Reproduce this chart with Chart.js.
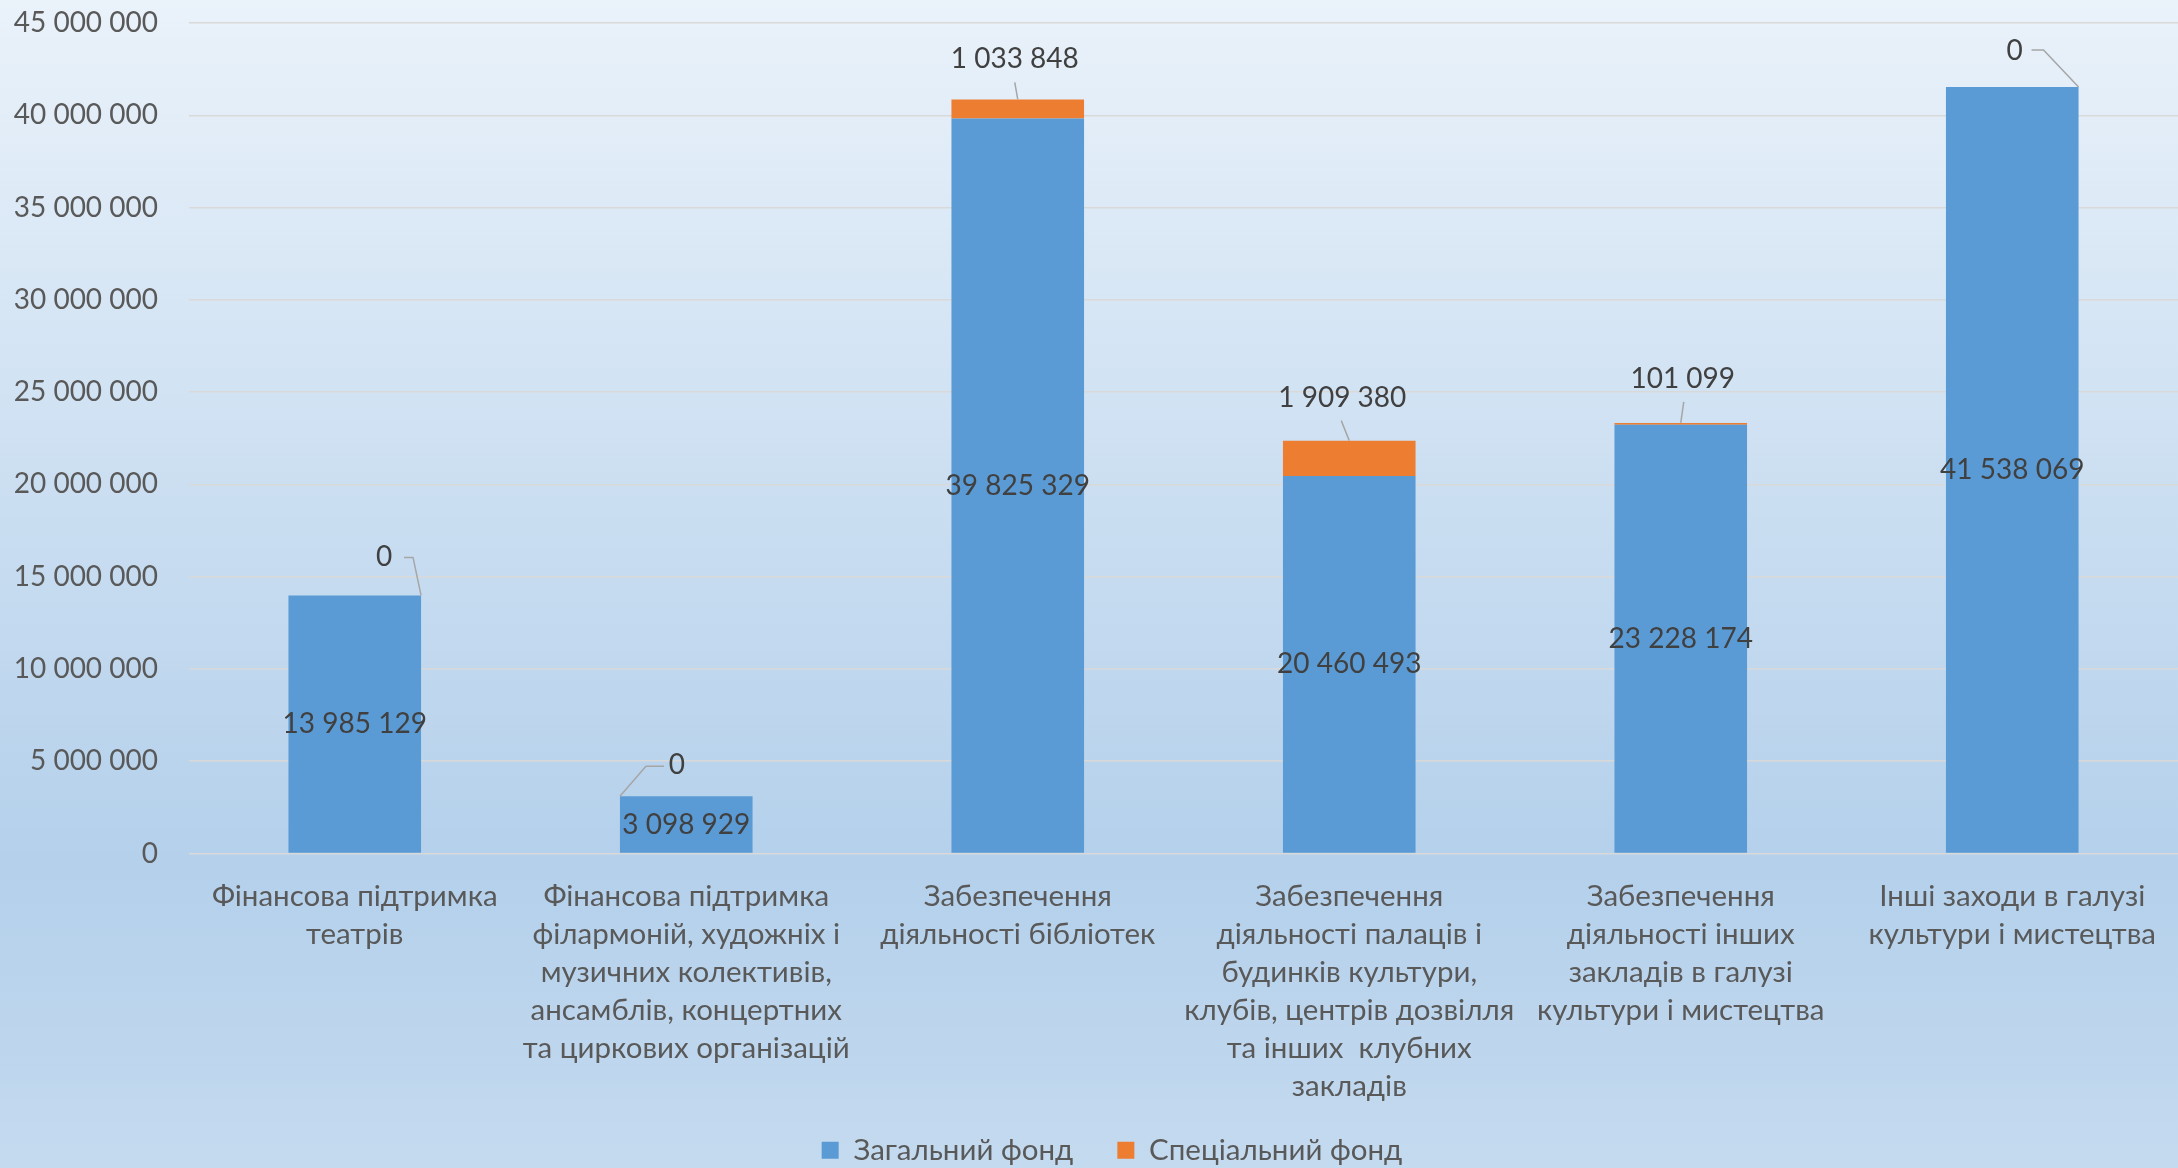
<!DOCTYPE html>
<html>
<head>
<meta charset="utf-8">
<script src="https://cdn.jsdelivr.net/npm/chart.js@4/dist/chart.umd.min.js"></script>
<style>
  html, body { margin: 0; padding: 0; }
  #wrap { width: 2178px; height: 1168px; }
</style>
</head>
<body>
<div id="wrap"><canvas id="barChart" width="2178" height="1168"></canvas></div>
<script>
// categories (multi-line, as wrapped in the source)
const categories = [
  ["Фінансова підтримка", "театрів"],
  ["Фінансова підтримка", "філармоній, художніх і", "музичних колективів,", "ансамблів, концертних", "та циркових організацій"],
  ["Забезпечення", "діяльності бібліотек"],
  ["Забезпечення", "діяльності палаців і", "будинків культури,", "клубів, центрів дозвілля", "та інших  клубних", "закладів"],
  ["Забезпечення", "діяльності інших", "закладів в галузі", "культури і мистецтва"],
  ["Інші заходи в галузі", "культури і мистецтва"]
];
const seriesNames = ["Загальний фонд", "Спеціальний фонд"];
const generalFund = [13985129, 3098929, 39825329, 20460493, 23228174, 41538069];
const specialFund = [0, 0, 1033848, 1909380, 101099, 0];
const yTicks = [0, 5000000, 10000000, 15000000, 20000000, 25000000, 30000000, 35000000, 40000000, 45000000];

const FONT = "Lato";
const TEXT = "#595959";
const LABEL = "#404040";

/**
 * Formats a number with space thousands separators
 * @param {Number} n
 * @returns {String}
 */
const fmt = (n) => String(n).replace(/\B(?=(\d{3})+(?!\d))/g, " ");

// callout placement for the special-fund labels (label centre, line points), relative to the anchor
const leaders = [
  { corner: "right", label: [-37, -38], line: [[0, 0], [-8, -38], [-17, -38]] },
  { corner: "left", label: [57, -31], line: [[0, 0], [26, -30], [44, -30]] },
  { corner: "mid", label: [-3, -40], line: [[0, 0], [-3, -17]] },
  { corner: "mid", label: [-7, -43], line: [[0, 0], [-8, -20]] },
  { corner: "mid", label: [2, -44], line: [[0, 0], [3, -21]] },
  { corner: "right", label: [-64, -36], line: [[0, 0], [-35, -37], [-47, -37]] }
];

const background = {
  id: "background",
  beforeDraw(chart) {
    const { ctx, width, height } = chart;
    const g = ctx.createLinearGradient(0, 0, 0, height);
    g.addColorStop(0, "#EAF2FA");
    g.addColorStop(0.74, "#B4D0EB");
    g.addColorStop(1, "#C4DAEF");
    ctx.save();
    ctx.fillStyle = g;
    ctx.fillRect(0, 0, width, height);
    ctx.restore();
  }
};

// nudge the legend to where the source puts it (and keep it inside its clip box)
const legendShift = {
  id: "legendShift",
  afterLayout(chart) {
    const l = chart.legend;
    l.left += 23; l.right += 23;
    l.top -= 17; l.bottom = chart.height;
  }
};

const dataLabels = {
  id: "dataLabels",
  afterDatasetsDraw(chart) {
    const { ctx } = chart;
    ctx.save();
    ctx.font = `28px ${FONT}`;
    ctx.fillStyle = LABEL;
    ctx.textAlign = "center";
    ctx.textBaseline = "middle";
    // values inside the general-fund bars
    chart.getDatasetMeta(0).data.forEach((bar, i) => {
      ctx.fillText(fmt(generalFund[i]), bar.x, (bar.y + bar.base) / 2);
    });
    // special-fund callouts
    chart.getDatasetMeta(1).data.forEach((bar, i) => {
      const lead = leaders[i];
      const half = bar.width / 2;
      const ax = lead.corner === "right" ? bar.x + half : lead.corner === "left" ? bar.x - half : bar.x;
      const ay = bar.y;
      ctx.strokeStyle = "#A6A6A6";
      ctx.lineWidth = 1.5;
      ctx.beginPath();
      lead.line.forEach(([dx, dy], k) => {
        if (k === 0) ctx.moveTo(ax + dx, ay + dy);
        else ctx.lineTo(ax + dx, ay + dy);
      });
      ctx.stroke();
      ctx.fillText(fmt(specialFund[i]), ax + lead.label[0], ay + lead.label[1]);
    });
    ctx.restore();
  }
};

new Chart(document.getElementById("barChart"), {
  type: "bar",
  data: {
    labels: categories,
    datasets: [
      { label: seriesNames[0], data: generalFund, backgroundColor: "#5B9BD5" },
      { label: seriesNames[1], data: specialFund, backgroundColor: "#ED7D31" }
    ]
  },
  options: {
    responsive: false,
    animation: false,
    devicePixelRatio: 1,
    barPercentage: 0.4,
    categoryPercentage: 1,
    layout: { padding: 0 },
    scales: {
      x: {
        stacked: true,
        grid: { display: false, drawTicks: false },
        border: { display: false },
        ticks: {
          autoSkip: false,
          maxRotation: 0,
          padding: 24,
          color: TEXT,
          font: { family: FONT, size: 29.5, lineHeight: 38 / 29.5 }
        },
        afterFit: (scale) => {
          scale.height = 255;
          scale.paddingLeft = 0;
          scale.paddingRight = 0;
        }
      },
      y: {
        stacked: true,
        min: 0,
        max: 45000000,
        afterBuildTicks: (scale) => { scale.ticks = yTicks.map(v => ({ value: v })); },
        grid: { color: "#D9D9D9", lineWidth: 1.5, drawTicks: false },
        border: { display: false },
        ticks: {
          padding: 31,
          color: TEXT,
          font: { family: FONT, size: 28 },
          callback: (v) => fmt(v)
        },
        afterFit: (scale) => {
          scale.width = 189;
          scale.paddingTop = 23;
          scale.paddingBottom = 0;
        }
      }
    },
    plugins: {
      legend: {
        position: "bottom",
        maxHeight: 59.5,
        labels: {
          boxWidth: 17,
          boxHeight: 17,
          padding: 44,
          color: TEXT,
          font: { family: FONT, size: 29.5 }
        }
      },
      tooltip: { enabled: false },
      title: { display: false }
    }
  },
  plugins: [background, legendShift, dataLabels]
});
</script>
</body>
</html>
